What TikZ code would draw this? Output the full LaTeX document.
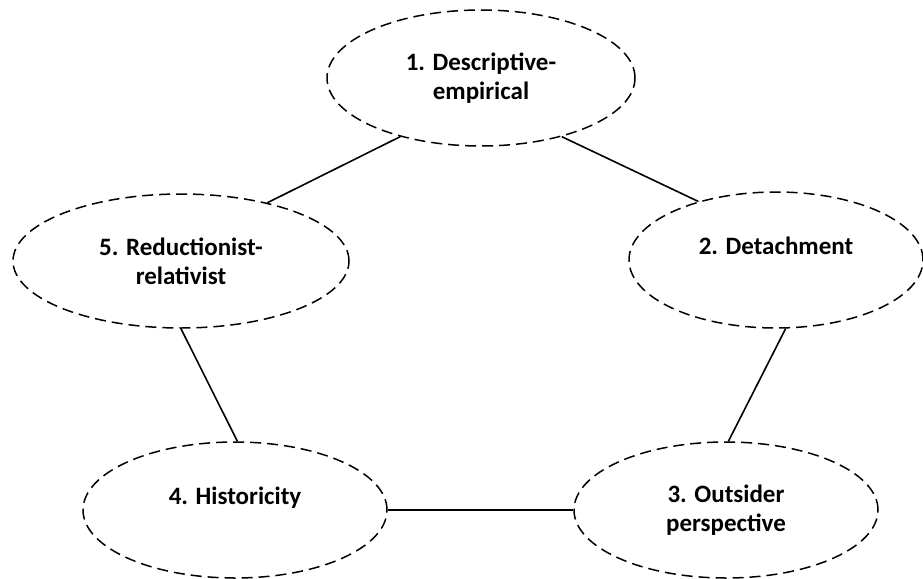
\documentclass[tikz,border=0pt]{standalone}
\usepackage{fontspec}
\setmainfont{Carlito}
\usetikzlibrary{shapes.geometric}

\tikzset{
  bubble/.style={shape=ellipse,draw=black,dash pattern=on 11pt off 6pt,line width=1.5pt,
    inner sep=0pt,align=center,font=\fontsize{25}{29}\selectfont\bfseries},
  link/.style={draw=black,line width=1.6pt}
}

\begin{document}
\begin{tikzpicture}[x=1pt,y=-1pt]
  \useasboundingbox (0,0) rectangle (923,578);
  \node[bubble,minimum width=308pt,minimum height=136pt] (desc) at (481,78) {1. Descriptive-\\empirical};
  \node[bubble,minimum width=294pt,minimum height=136pt] (detach) at (776,260) {2. Detachment\\~};
  \node[bubble,minimum width=304pt,minimum height=136pt] (outsider) at (726,510) {3. Outsider\\perspective};
  \node[bubble,minimum width=304pt,minimum height=136pt] (hist) at (235,510) {4. Historicity\\~};
  \node[bubble,minimum width=336pt,minimum height=134pt] (reduct) at (181,261) {5. Reductionist-\\relativist};
  \path [link](desc.216) -- (reduct.34);
  \path [link](desc.324) -- (detach.143);
  \path [link](detach.278) -- (outsider.88);
  \path [link](hist.0) -- (outsider.180);
  \path [link](reduct.270) -- (hist.88);
\end{tikzpicture}
\end{document}
